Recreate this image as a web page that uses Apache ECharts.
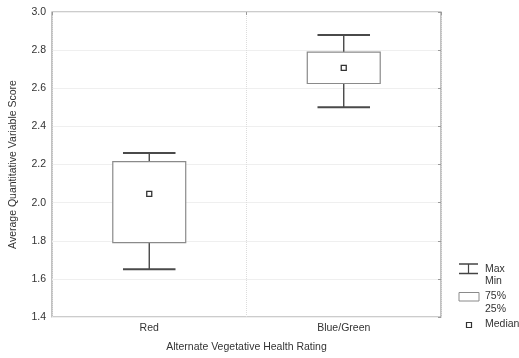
<!DOCTYPE html>
<html>
<head>
<meta charset="utf-8">
<script src="https://cdn.jsdelivr.net/npm/echarts@6/dist/echarts.min.js"></script>
<style>
  html, body { margin: 0; padding: 0; background: #fff; }
  #chart { width: 519px; height: 358px; }
</style>
</head>
<body>
<div id="chart"></div>
<script>
// Vegetative health groups and their score summaries
const categories = ['Red', 'Blue/Green'];
const minValues = [1.65, 2.50];
const q1Values = [1.79, 2.625];
const medianValues = [2.046, 2.707];
const q3Values = [2.215, 2.79];
const maxValues = [2.26, 2.88];
const yTicks = [1.4, 1.6, 1.8, 2.0, 2.2, 2.4, 2.6, 2.8, 3.0];

const FONT = 'Liberation Sans, Arial, sans-serif';
const TEXT = '#333';
const FS = 10.5;

const rows = categories.map((c, i) => [i, minValues[i], q1Values[i], medianValues[i], q3Values[i], maxValues[i]]);

function renderBox(params, api) {
  const idx = api.value(0);
  const pMin = api.coord([idx, api.value(1)]);
  const pQ1 = api.coord([idx, api.value(2)]);
  const pMed = api.coord([idx, api.value(3)]);
  const pQ3 = api.coord([idx, api.value(4)]);
  const pMax = api.coord([idx, api.value(5)]);
  const band = api.size([1, 0])[0];
  const boxW = band * 0.375;
  const capW = band * 0.27;
  const x = pMed[0];
  const whisker = { stroke: '#3a3a3a', lineWidth: 1.3 };
  const cap = { stroke: '#4a4a4a', lineWidth: 2 };
  return {
    type: 'group',
    children: [
      { type: 'line', shape: { x1: x, y1: pQ3[1], x2: x, y2: pMax[1] }, style: whisker },
      { type: 'line', shape: { x1: x, y1: pQ1[1], x2: x, y2: pMin[1] }, style: whisker },
      { type: 'line', shape: { x1: x - capW / 2, y1: pMax[1], x2: x + capW / 2, y2: pMax[1] }, style: cap },
      { type: 'line', shape: { x1: x - capW / 2, y1: pMin[1], x2: x + capW / 2, y2: pMin[1] }, style: cap },
      { type: 'rect', shape: { x: x - boxW / 2, y: pQ3[1], width: boxW, height: pQ1[1] - pQ3[1] },
        style: { fill: '#fff', stroke: '#8a8a8a', lineWidth: 1.2 } },
      { type: 'rect', shape: { x: x - 2.5, y: pMed[1] - 2.5, width: 5, height: 5 },
        style: { fill: '#fff', stroke: '#333', lineWidth: 1.3 } }
    ]
  };
}

const chart = echarts.init(document.getElementById('chart'), null, { renderer: 'canvas' });

const legendX = 459;
const legendText = (text, top) => ({
  type: 'text', left: 485, top: top,
  style: { text: text, fontFamily: FONT, fontSize: FS, fill: TEXT }
});

chart.setOption({
  animation: false,
  backgroundColor: '#fff',
  textStyle: { fontFamily: FONT },
  grid: { left: 50, right: 78, top: 12, bottom: 40, show: true, borderColor: '#9a9a9a', borderWidth: 1.2 },
  xAxis: [{
    type: 'category',
    data: categories,
    boundaryGap: true,
    name: 'Alternate Vegetative Health Rating',
    nameLocation: 'middle',
    nameGap: 25,
    nameTextStyle: { fontFamily: FONT, fontSize: FS, color: TEXT },
    axisLine: { show: false },
    axisTick: { show: false },
    axisLabel: { fontFamily: FONT, fontSize: FS, color: TEXT, margin: 6 },
    splitLine: { show: true, lineStyle: { color: '#dcdcdc', type: 'dotted', width: 1 } }
  }, {
    type: 'category',
    data: categories,
    position: 'top',
    axisLine: { show: false },
    axisLabel: { show: false },
    axisTick: { show: true, inside: true, length: 3, lineStyle: { color: '#9a9a9a' } }
  }],
  yAxis: [{
    type: 'value',
    min: 1.4,
    max: 3.0,
    interval: 0.2,
    name: 'Average Quantitative Variable Score',
    nameLocation: 'middle',
    nameGap: 33,
    nameTextStyle: { fontFamily: FONT, fontSize: FS, color: TEXT },
    axisLine: { show: false },
    axisTick: { show: false },
    axisLabel: {
      fontFamily: FONT, fontSize: FS, color: TEXT, margin: 6,
      formatter: v => yTicks.find(t => Math.abs(t - v) < 1e-6).toFixed(1)
    },
    splitLine: { show: true, lineStyle: { color: '#efefef', width: 1 } }
  }, {
    type: 'value',
    min: 1.4,
    max: 3.0,
    interval: 0.2,
    position: 'right',
    axisLine: { show: false },
    axisLabel: { show: false },
    axisTick: { show: true, inside: true, length: 3, lineStyle: { color: '#9a9a9a' } },
    splitLine: { show: false }
  }],
  series: [{
    type: 'custom',
    renderItem: renderBox,
    encode: { x: 0, y: [1, 2, 3, 4, 5] },
    data: rows,
    z: 5
  }],
  graphic: [
    // whisker key
    { type: 'line', shape: { x1: legendX, y1: 264, x2: legendX + 19, y2: 264 }, style: { stroke: '#444', lineWidth: 1.5 } },
    { type: 'line', shape: { x1: legendX, y1: 273.5, x2: legendX + 19, y2: 273.5 }, style: { stroke: '#444', lineWidth: 1.5 } },
    { type: 'line', shape: { x1: legendX + 9.5, y1: 264, x2: legendX + 9.5, y2: 273.5 }, style: { stroke: '#444', lineWidth: 1.2 } },
    legendText('Max', 264),
    legendText('Min', 276),
    // box key
    { type: 'rect', shape: { x: legendX, y: 292.5, width: 20, height: 8.5 }, style: { fill: '#fff', stroke: '#8a8a8a', lineWidth: 1 } },
    legendText('75%', 291),
    legendText('25%', 304),
    // median key
    { type: 'rect', shape: { x: 466.5, y: 322.5, width: 5, height: 5 }, style: { fill: '#fff', stroke: '#333', lineWidth: 1.2 } },
    legendText('Median', 319)
  ]
});
</script>
</body>
</html>
